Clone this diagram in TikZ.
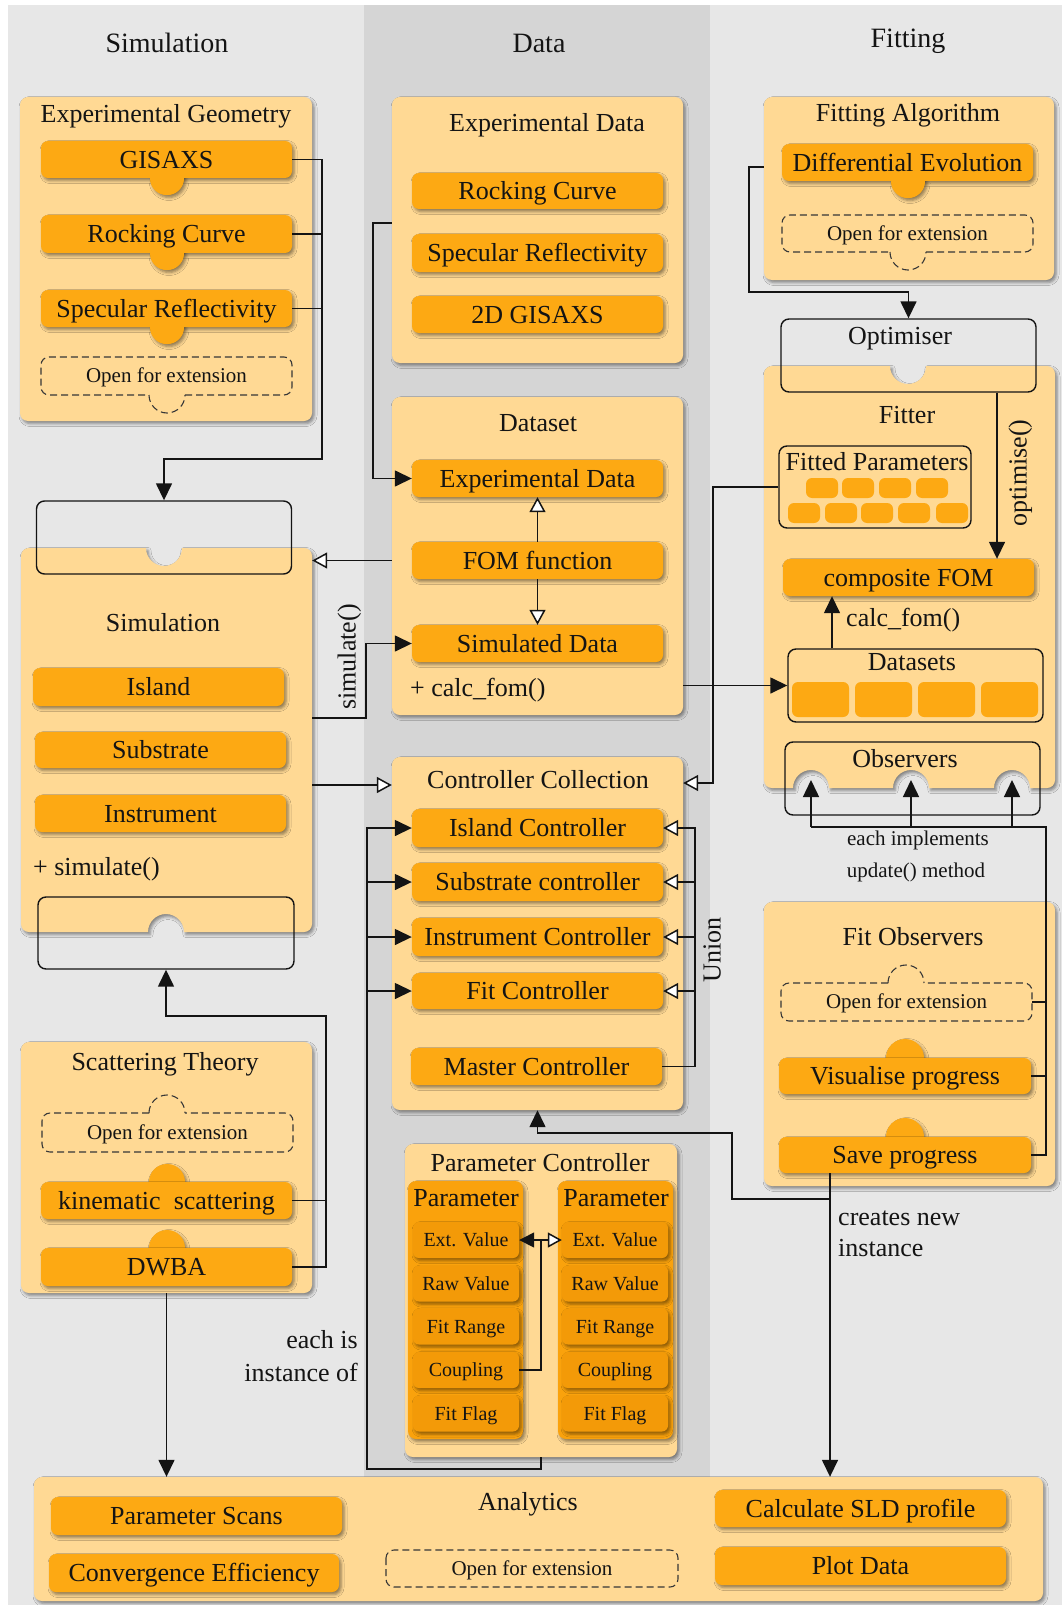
\documentclass[tikz,border=0pt]{standalone}
\usepackage{fontspec}
\setmainfont{Liberation Serif}
\usetikzlibrary{arrows.meta,shadows.blur}
\definecolor{bgl}{RGB}{231,231,231}
\definecolor{bgd}{RGB}{213,213,213}
\definecolor{pan}{RGB}{255,217,148}
\definecolor{org}{RGB}{253,169,19}
\definecolor{orgc}{RGB}{250,162,12}
\definecolor{orgs}{RGB}{243,154,8}
\definecolor{ink}{RGB}{20,20,20}
\newcommand\myfs[1]{\fontsize{#1pt}{#1pt}\selectfont}
\tikzset{
  sh/.style={blur shadow={shadow xshift=2pt,shadow yshift=-2.5pt,shadow blur radius=3pt,shadow opacity=45}},
  panel/.style={fill=pan,rounded corners=8pt,sh},
  pnode/.style 2 args={panel,inner sep=0pt,minimum width=#1pt,minimum height=#2pt},
  txt/.style={inner sep=0pt,text height=17.2pt,text depth=0pt,font=\myfs{26},text=ink},
  htx/.style={inner sep=0pt,text height=18.5pt,text depth=0pt,font=\myfs{28},text=ink},
  bx/.style 2 args={txt,fill=org,rounded corners=7pt,sh,minimum width=#1pt,minimum height=#2pt},
  sbx/.style={inner sep=0pt,text height=13.2pt,text depth=0pt,font=\myfs{20},text=ink,fill=orgs,rounded corners=6pt,sh,minimum width=106pt,minimum height=36pt},
  outl/.style 2 args={draw=ink,line width=1.4pt,rounded corners=8pt,inner sep=0pt,minimum width=#1pt,minimum height=#2pt},
  dsh/.style={draw=ink!85,dash pattern=on 7pt off 4pt,line width=1.1pt},
  otx/.style={inner sep=0pt,text height=13.9pt,text depth=0pt,font=\myfs{21},text=ink},
  conn/.style={draw=ink,line width=1.5pt},
  farr/.style={conn,-{Triangle[length=17pt,width=16pt]}},
  oarr/.style={conn,-{Triangle[open,length=15pt,width=16pt,fill=white]}},
  chip/.style={fill=org,rounded corners=6pt},
}
\newcommand\oeplain[5]{%
 \node[otx,minimum width=#4pt,minimum height=#5pt] (#1) at (#2,#3) {Open for extension};
 \draw[dsh,rounded corners=8pt] ({#2-#4/2},{#3-#5/2}) rectangle ({#2+#4/2},{#3+#5/2});}
\newcommand\oedown[6]{%
 \node[otx,minimum width=#4pt,minimum height=#5pt] (#1) at (#2,#3) {Open for extension};
 \draw[dsh,rounded corners=8pt] ({#6+18},{#3+#5/2}) -- ({#2+#4/2},{#3+#5/2}) -- ({#2+#4/2},{#3-#5/2}) -- ({#2-#4/2},{#3-#5/2}) -- ({#2-#4/2},{#3+#5/2}) -- ({#6-18},{#3+#5/2});
 \draw[dsh] ({#6-18},{#3+#5/2}) arc[start angle=180,end angle=0,radius=18];}
\newcommand\oeup[6]{%
 \node[otx,minimum width=#4pt,minimum height=#5pt] (#1) at (#2,#3) {Open for extension};
 \draw[dsh,rounded corners=8pt] ({#6-18},{#3-#5/2}) -- ({#2-#4/2},{#3-#5/2}) -- ({#2-#4/2},{#3+#5/2}) -- ({#2+#4/2},{#3+#5/2}) -- ({#2+#4/2},{#3-#5/2}) -- ({#6+18},{#3-#5/2});
 \draw[dsh] ({#6-18},{#3-#5/2}) arc[start angle=180,end angle=360,radius=18];}
\newcommand\bdisk[3]{\fill[org,sh] (#1,#2) circle[radius=#3];}
\newcommand\bcap[3]{\fill[org] ({#1-#3},#2) arc[start angle=180,end angle=0,radius=#3] -- cycle;}
\begin{document}
\begin{tikzpicture}[x=1pt,y=-1pt]
\useasboundingbox (0,0) rectangle (1062,1605);
\fill[white] (0,0) rectangle (1062,1605);
\fill[bgl] (8,5) rectangle (1062,1605);
\fill[bgd] (364,5) rectangle (710,1477);

% column headers
\node[htx] (hsim) at (167,43) {Simulation};
\node[htx] (hdat) at (539,43) {Data};
\node[htx] (hfit) at (908,38) {Fitting};

% panels
\node[pnode={292}{324}] (egP) at (166,259) {};
\node[pnode={291}{266}] (edP) at (537.5,230) {};
\node[pnode={291}{318}] (dsP) at (537.5,556) {};
\node[pnode={291}{353}] (ccP) at (537.5,933.5) {};
\node[pnode={272}{313}] (pcP) at (541,1300.5) {};
\node[pnode={291}{251}] (scP) at (166.5,1167.5) {};
\node[pnode={290}{183}] (faP) at (909,188.5) {};
\node[pnode={291}{284}] (foP) at (909.5,1044) {};
\node[pnode={1009}{124}] (anP) at (538.5,1539) {};

% simulation panel with notches
\path[fill=pan,sh] (21,556) arc[start angle=180,end angle=270,radius=8] -- (146,548) arc[start angle=180,end angle=0,radius=18] -- (304,548) arc[start angle=270,end angle=360,radius=8] -- (312,924) arc[start angle=0,end angle=90,radius=8] -- (184,932) arc[start angle=0,end angle=-180,radius=18] -- (29,932) arc[start angle=90,end angle=180,radius=8] -- cycle;
\node[inner sep=0pt,minimum width=291pt,minimum height=384pt] (simP) at (166.5,740) {};

% fitter panel with notches
\path[fill=pan,sh] (764,374) arc[start angle=180,end angle=270,radius=8] -- (890,366) arc[start angle=180,end angle=0,radius=18] -- (1047,366) arc[start angle=270,end angle=360,radius=8] -- (1055,780) arc[start angle=0,end angle=90,radius=8] -- (1030,788) arc[start angle=0,end angle=-180,radius=18] -- (929,788) arc[start angle=0,end angle=-180,radius=18] -- (829,788) arc[start angle=0,end angle=-180,radius=18] -- (772,788) arc[start angle=90,end angle=180,radius=8] -- cycle;
\node[inner sep=0pt,minimum width=291pt,minimum height=422pt] (fiP) at (909.5,577) {};

% parameter columns
\node[fill=orgc,rounded corners=8pt,sh,inner sep=0pt,minimum width=115pt,minimum height=258pt] (pc1) at (465.5,1310) {};
\node[fill=orgc,rounded corners=8pt,sh,inner sep=0pt,minimum width=115pt,minimum height=258pt] (pc2) at (615.5,1310) {};

% titles
\node[txt] (tEG) at (166,113.5) {Experimental Geometry};
\node[txt] (tED) at (547,123) {Experimental Data};
\node[txt] (tDS) at (538,423) {Dataset};
\node[txt] (tCC) at (538,780) {Controller Collection};
\node[txt] (tPC) at (540,1163) {Parameter Controller};
\node[txt] (tST) at (165,1062) {Scattering Theory};
\node[txt] (tFA) at (908,113) {Fitting Algorithm};
\node[txt] (tFO) at (913,937) {Fit Observers};
\node[txt] (tAN) at (528,1502) {Analytics};
\node[txt] (tSI) at (163,623) {Simulation};
\node[txt] (tFI) at (907,415) {Fitter};
\node[txt] (tP1) at (466,1198) {Parameter};
\node[txt] (tP2) at (616,1198) {Parameter};

% experimental geometry
\bdisk{167}{178}{17}\bdisk{167}{253}{17}\bdisk{167}{327}{17}
\node[bx={251}{37}] (gis) at (166.5,159.5) {GISAXS};
\node[bx={251}{38}] (rc1) at (166.5,234) {Rocking Curve};
\node[bx={251}{37}] (sr1) at (166.5,308.5) {Specular Reflectivity};
\bcap{167}{178}{17}\bcap{167}{253}{17}\bcap{167}{327}{17}
\oedown{oe1}{166.5}{376}{251}{38}{167}

% experimental data
\node[bx={251}{36}] (rc2) at (537.5,191) {Rocking Curve};
\node[bx={251}{38}] (sr2) at (537.5,253) {Specular Reflectivity};
\node[bx={251}{37}] (gi2) at (537.5,314.5) {2D GISAXS};

% dataset
\node[bx={251}{37}] (ed2) at (537.5,478.5) {Experimental Data};
\node[bx={251}{37}] (fom) at (537.5,560.5) {FOM function};
\node[bx={251}{37}] (simd) at (537.5,643.5) {Simulated Data};
\node[txt,anchor=west] (cf1) at (410,688) {+ calc\_fom()};

% controller collection
\node[bx={251}{38}] (ic) at (537.5,828) {Island Controller};
\node[bx={251}{38}] (sc) at (537.5,882) {Substrate controller};
\node[bx={251}{38}] (inc) at (537.5,937) {Instrument Controller};
\node[bx={251}{36}] (fc) at (537.5,991) {Fit Controller};
\node[bx={251}{37}] (mc) at (536.5,1066.5) {Master Controller};

% parameter controller
\foreach \n/\y/\tx in {1/1240/Ext. Value,2/1283.5/Raw Value,3/1326.5/Fit Range,4/1370/Coupling,5/1413.5/Fit Flag}{
  \node[sbx] (pa\n) at (466,\y) {\tx};
  \node[sbx] (pb\n) at (615,\y) {\tx};
}

% simulation
\node[bx={251}{38}] (isl) at (158.5,687) {Island};
\node[bx={251}{36}] (sub) at (160.5,750) {Substrate};
\node[bx={251}{37}] (ins) at (160.5,813.5) {Instrument};
\node[txt,anchor=west] (simf) at (33,867) {+ simulate()};
\node[outl={255}{73}] (simTop) at (164,537.5) {};
\node[outl={256}{72}] (simBot) at (166,933) {};

% scattering theory
\oeup{oe2}{167.5}{1132.5}{251}{39}{167}
\bdisk{167}{1182}{18}\bdisk{167}{1248}{18}
\node[bx={251}{37}] (kin) at (166.5,1200.5) {kinematic~~scattering};
\node[bx={251}{38}] (dwba) at (166.5,1267) {DWBA};

% fitting algorithm
\bdisk{908}{181}{17}
\node[bx={251}{37}] (de) at (907.5,162.5) {Differential Evolution};
\bcap{908}{181}{17}
\oedown{oe3}{907.5}{233.5}{251}{37}{908}

% fitter
\node[outl={255}{73}] (opt) at (908.5,355.5) {};
\node[txt] (tOp) at (900,336) {Optimiser};
\node[outl={192}{82}] (fp) at (875,487) {};
\node[txt] (tFP) at (877,462) {Fitted Parameters};
\foreach \x in {822,858,895,932} \fill[chip] ({\x-16},478) rectangle ({\x+16},498);
\foreach \x in {804,841,877,914,952} \fill[chip] ({\x-16},503) rectangle ({\x+16},523);
\node[bx={251}{37}] (cfom) at (908.5,577.5) {composite FOM};
\node[outl={255}{73}] (dsets) at (915.5,685.5) {};
\node[txt] (tDs) at (912,662) {Datasets};
\foreach \a/\b in {792/849,855/912,918/975,981/1038} \fill[chip] (\a,682) rectangle (\b,717);
\node[outl={255}{73}] (obs) at (912.5,778.5) {};
\node[txt] (tOb) at (905,759) {Observers};

% fit observers
\oeup{oe4}{906.5}{1002}{251}{38}{906}
\bdisk{905}{1058}{19}
\node[bx={252}{36}] (vp) at (905,1076) {Visualise progress};
\bdisk{905}{1137}{19}
\node[bx={252}{36}] (sp) at (905,1155) {Save progress};

% analytics
\node[bx={291}{38}] (ps) at (196.5,1516) {Parameter Scans};
\node[bx={290}{38}] (ce) at (194,1573) {Convergence Efficiency};
\oeplain{oe5}{532}{1568.5}{292}{37}
\node[bx={291}{37}] (sld) at (860.5,1508.5) {Calculate SLD profile};
\node[bx={291}{38}] (pd) at (860.5,1566) {Plot Data};

% ---------- connectors ----------
\coordinate (lx) at (367,0);
\coordinate (ux) at (695,0);
\coordinate (jy) at (0,1199);
% experimental geometry -> simulation
\draw[farr] (gis.east) -- (322,159.5) -- (322,459) -| (simTop.north);
\draw[conn] (rc1.east) -- (322,234);
\draw[conn] (sr1.east) -- (322,308.5);
% scattering theory -> simulation
\draw[farr] (dwba.east) -- (326,1267) -- (326,1016) -| (simBot.south);
\draw[conn] (kin.east) -- (326,1200.5);
% scattering theory -> analytics
\draw[farr] (scP.south) -- (scP.south |- anP.north);
% dataset -> simulation
\draw[oarr] (dsP.west |- fom.west) -- (simP.east |- fom.west);
% simulation -> simulated data
\draw[farr] ([yshift=22pt]simP.east) -- (366,718) |- (simd.west);
% simulation -> controller collection
\draw[oarr] ([yshift=-45pt]simP.east) coordinate (s2) -- (ccP.west |- s2);
% experimental data -> dataset
\draw[farr] ([yshift=7pt]edP.west) -- (373,223) |- (ed2.west);
% fom
\draw[oarr] (fom.north) -- (ed2.south);
\draw[oarr] (fom.south) -- (simd.north);
% dataset -> datasets
\draw[farr] (dsP.east |- dsets.west) -- (dsets.west);
% fitted parameters -> controller collection
\draw[oarr] (fp.west) -| (713,783) coordinate (f2) -- (ccP.east |- f2);
% parameter controller -> controllers
\draw[farr] (pcP.south) -- ++(0,12) -| (lx |- ic.west) -- (ic.west);
\draw[farr] (lx |- sc.west) -- (sc.west);
\draw[farr] (lx |- inc.west) -- (inc.west);
\draw[farr] (lx |- fc.west) -- (fc.west);
% union
\draw[oarr] (mc.east) -| (ux |- ic.east) -- (ic.east);
\draw[oarr] (ux |- sc.east) -- (sc.east);
\draw[oarr] (ux |- inc.east) -- (inc.east);
\draw[oarr] (ux |- fc.east) -- (fc.east);
% coupling
\coordinate (pj) at (541,1240);
\draw[conn] (pa4.east) -| (pj);
\draw[conn,-{Triangle[length=15pt,width=15pt]}] (pj) -- (pa1.east);
\draw[conn,-{Triangle[open,length=14pt,width=15pt,fill=white]}] (pj) -- (pb1.west);
% save progress -> analytics and controller collection
\draw[farr] ([xshift=-75pt]sp.south) coordinate (sv) -- (sv |- anP.north);
\draw[farr] (sv |- jy) -| (732,1133) -| (ccP.south);
% fitting algorithm -> optimiser
\draw[farr] ([yshift=21.5pt]faP.west) -| (749,292) -| (opt.north);
% optimiser -> composite FOM
\draw[farr] ([xshift=88.5pt]opt.south) coordinate (o2) -- (o2 |- cfom.north);
% datasets -> composite FOM
\draw[farr] ([xshift=-83.5pt]dsets.north) coordinate (d2) -- (d2 |- cfom.south);
% observers
\draw[conn] (sp.east) -| (1046,827) -- (811,827);
\draw[conn] (vp.east) -- (1046,1076);
\draw[conn] (oe4.east) -- (1046,1002);
\foreach \x in {811,911,1012} \draw[farr] (\x,827) -- (\x,780);

% labels
\node[txt,rotate=90] (lsim) at (347,657) {simulate()};
\node[txt,rotate=90] (lopt) at (1018,473) {optimise()};
\node[txt,rotate=90] (lun) at (712,950) {Union};
\node[txt,anchor=west] (lcf) at (846,618) {calc\_fom()};
\node[otx] (lei) at (918,839) {each implements};
\node[otx] (lum) at (916,871) {update() method};
\node[txt,anchor=west] (lcn) at (838,1217) {creates new};
\node[txt,anchor=west] (lin) at (838,1248) {instance};
\node[txt,anchor=east] (lea) at (358,1340) {each is};
\node[txt,anchor=east] (lio) at (358,1373) {instance of};
\end{tikzpicture}
\end{document}
